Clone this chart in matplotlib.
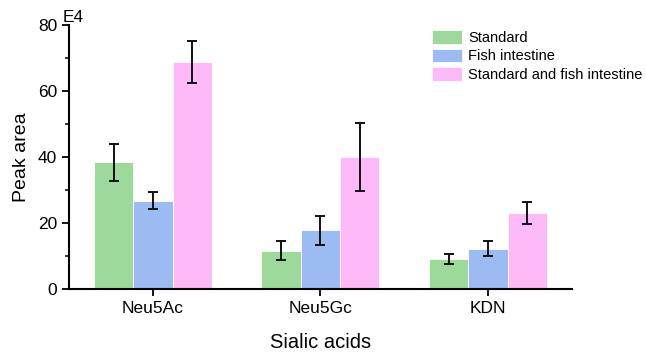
import numpy as np
import matplotlib
matplotlib.use('Agg')
import matplotlib.pyplot as plt
from matplotlib.ticker import MultipleLocator

plt.rcParams['font.family'] = ['Liberation Sans', 'DejaVu Sans']

categories = ['Neu5Ac', 'Neu5Gc', 'KDN']
series_names = ['Standard', 'Fish intestine', 'Standard and fish intestine']
standard = [38.4, 11.6, 9.0]
standard_err = [5.6, 2.9, 1.5]
fish = [26.8, 17.8, 12.2]
fish_err = [2.5, 4.4, 2.3]
mixed = [68.8, 40.0, 23.0]
mixed_err = [6.5, 10.2, 3.4]
colors = ['#9ed99c', '#9cbbf2', '#fdb9f8']

fig = plt.figure(figsize=(6.46, 3.53), dpi=100)
ax = fig.add_axes([0.107, 0.181, 0.778, 0.748])

x = np.arange(len(categories))
w = 0.235
for i, (vals, errs) in enumerate([(standard, standard_err), (fish, fish_err), (mixed, mixed_err)]):
    ax.bar(x + (i - 1) * w, vals, width=w, color=colors[i], edgecolor='#ffffff',
           linewidth=0.6, label=series_names[i], zorder=2)
    ax.errorbar(x + (i - 1) * w, vals, yerr=errs, fmt='none', ecolor='#111111',
                elinewidth=1.4, capsize=3.5, capthick=1.4, zorder=3)

ax.set_xlim(-0.5, 2.5)
ax.set_ylim(0, 80)
ax.set_xticks(x)
ax.set_xticklabels(categories)
ax.yaxis.set_major_locator(MultipleLocator(20))
ax.yaxis.set_minor_locator(MultipleLocator(10))
ax.tick_params(axis='both', which='major', direction='out', length=5, width=1.3, labelsize=12.5)
ax.tick_params(axis='y', which='minor', direction='out', length=3, width=1.1)
ax.tick_params(axis='x', which='minor', length=0)
for s in ['top', 'right']:
    ax.spines[s].set_visible(False)
for s in ['left', 'bottom']:
    ax.spines[s].set_linewidth(1.5)

ax.set_xlabel('Sialic acids', fontsize=14.5, labelpad=12)
ax.set_ylabel('Peak area', fontsize=14, labelpad=6)
fig.text(0.097, 0.93, 'E4', fontsize=12.5, ha='left', va='bottom')

ax.legend(loc='upper left', bbox_to_anchor=(0.669, 0.915), bbox_transform=fig.transFigure,
          frameon=False, fontsize=10.5, handlelength=2.05, handleheight=1.05,
          handletextpad=0.4, labelspacing=0.27, borderpad=0, borderaxespad=0)

fig.savefig('out.png', dpi=100)
